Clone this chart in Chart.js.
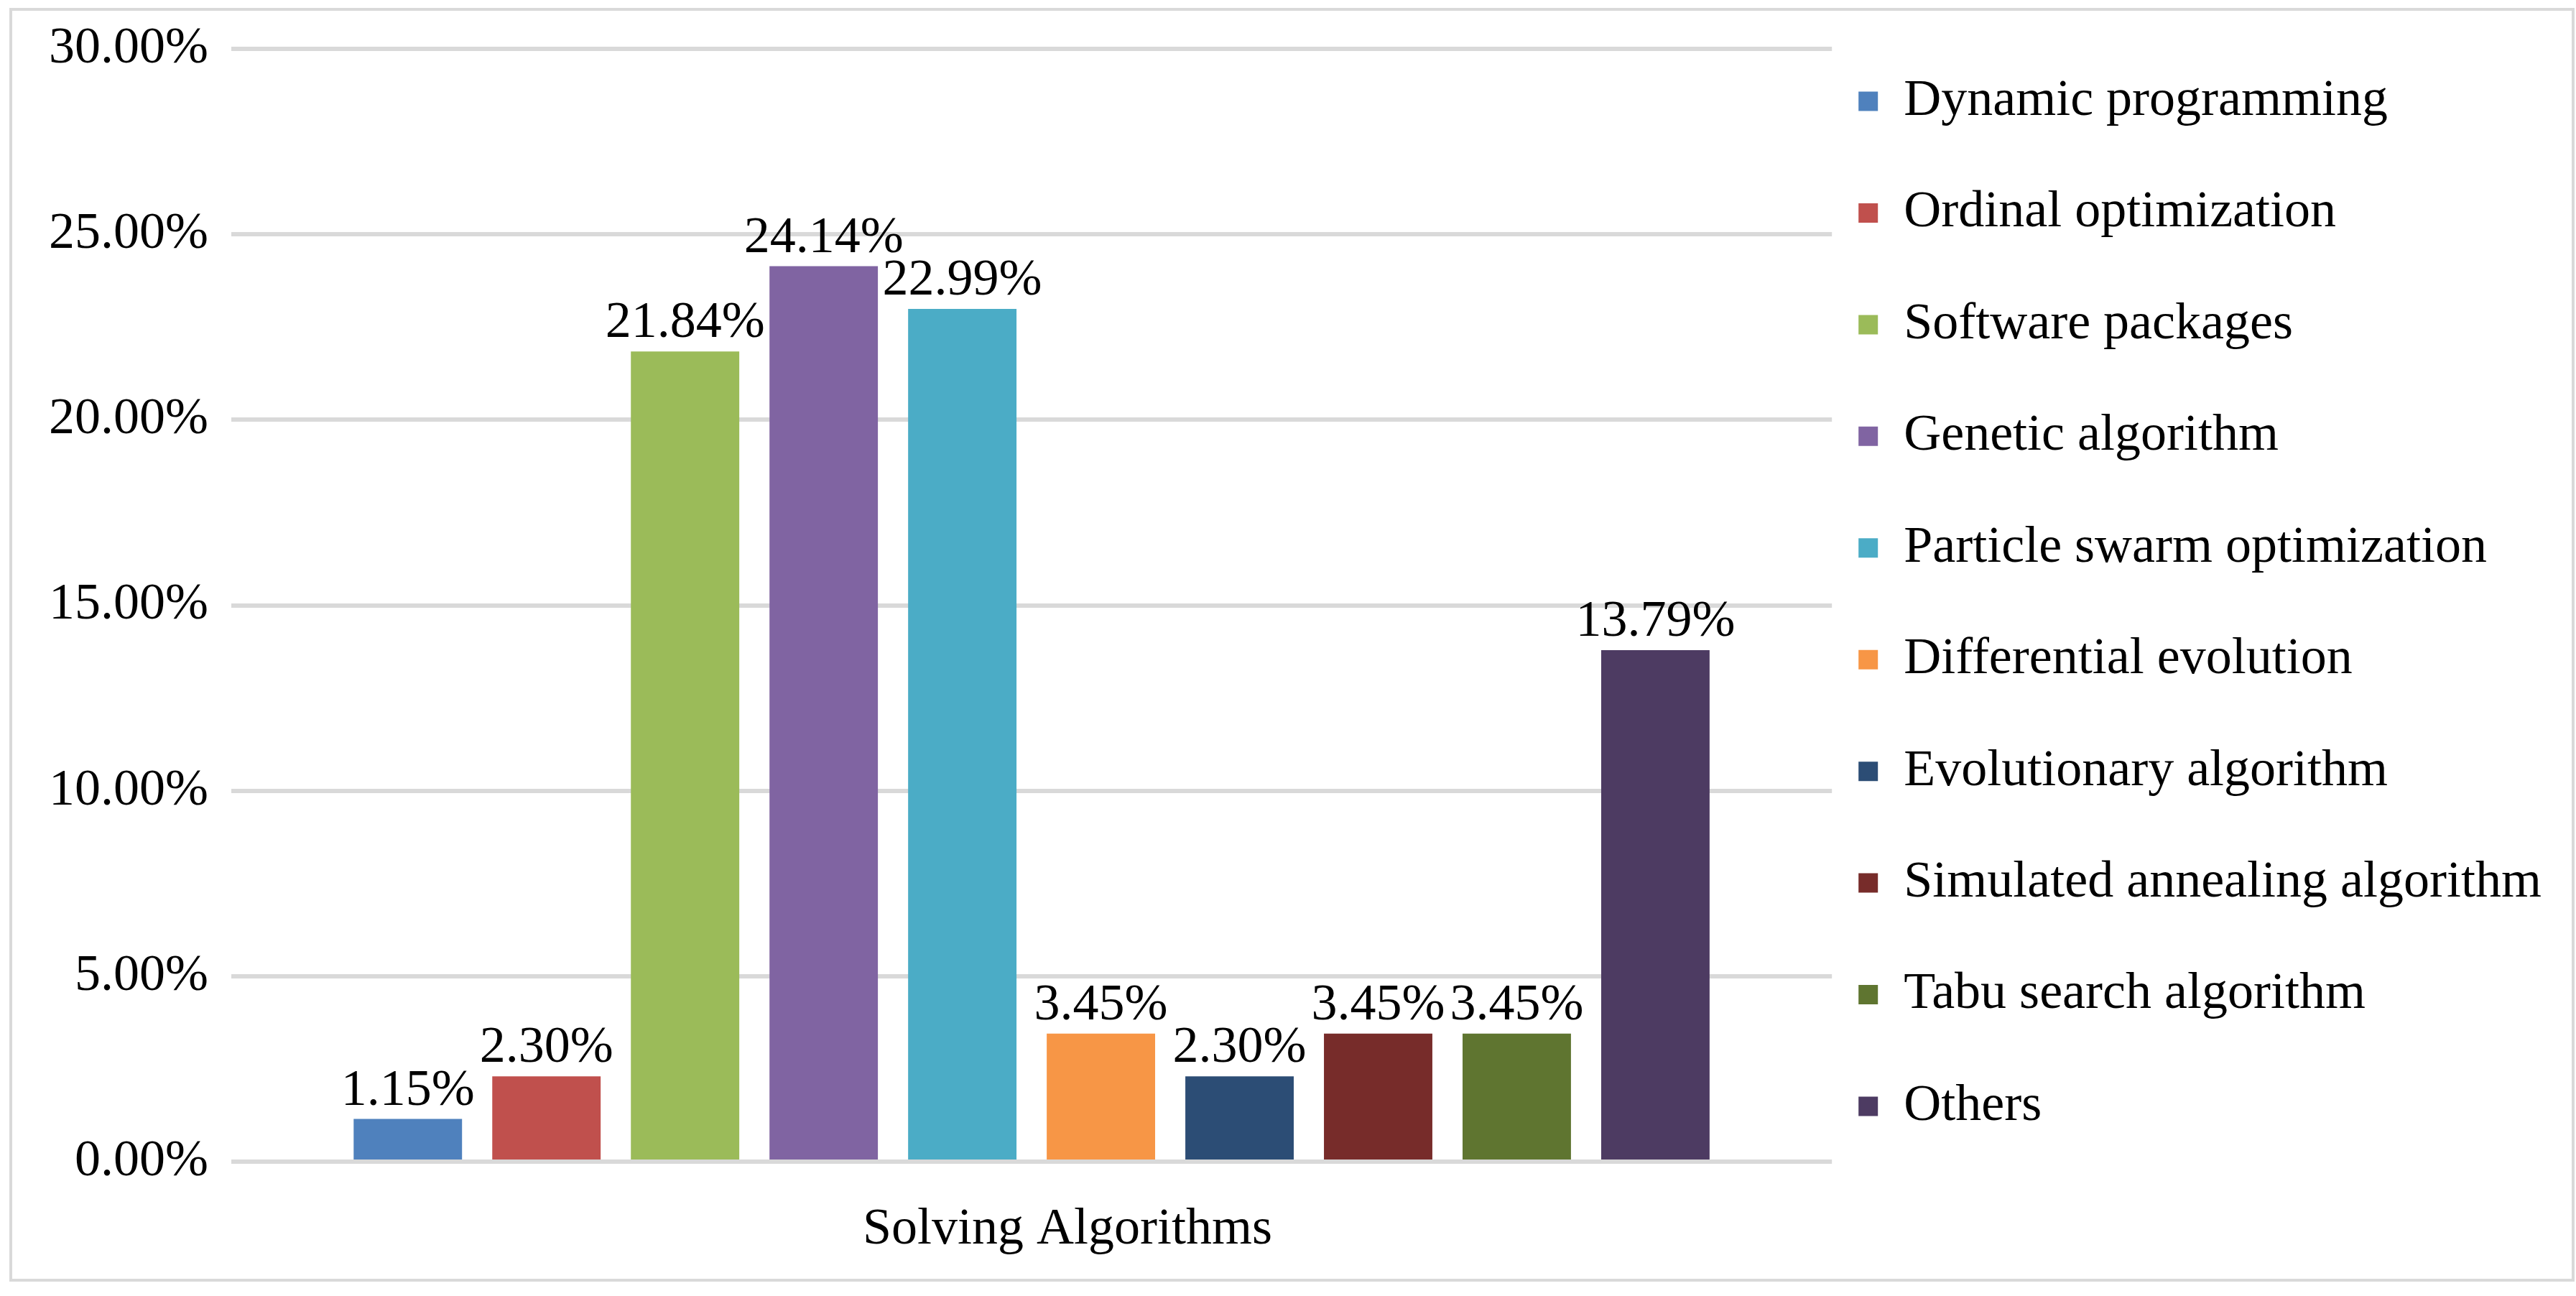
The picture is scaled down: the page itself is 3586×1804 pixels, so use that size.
<!DOCTYPE html>
<html>
<head>
<meta charset="utf-8">
<script src="https://cdn.jsdelivr.net/npm/chart.js@4.4.1/dist/chart.umd.min.js"></script>
<style>
  html, body { margin: 0; padding: 0; background: #fff; }
  #wrap { position: relative; width: 3586px; height: 1804px; }
  #frame { position: absolute; left: 13px; top: 11px; width: 3571px; height: 1773px;
           border: 4px solid #d9d9d9; box-sizing: border-box; pointer-events: none; }
</style>
</head>
<body>
<div id="wrap">
  <canvas id="chart" width="3586" height="1804"></canvas>
  <div id="frame"></div>
</div>
<script>
// datos
const categorias = ["Solving Algorithms"];
const algoritmos = [
  "Dynamic programming",
  "Ordinal optimization",
  "Software packages",
  "Genetic algorithm",
  "Particle swarm optimization",
  "Differential evolution",
  "Evolutionary algorithm",
  "Simulated annealing algorithm",
  "Tabu search algorithm",
  "Others"
];
const porcentajes = [1.15, 2.30, 21.84, 24.14, 22.99, 3.45, 2.30, 3.45, 3.45, 13.79];
const colores = ["#4F81BD", "#C0504D", "#9BBB59", "#8064A2", "#4BACC6",
                 "#F79646", "#2C4D75", "#772C2A", "#5F7530", "#4D3B62"];
const yMin = 0, yMax = 30, yPaso = 5;

const FUENTE = "'Liberation Serif', 'Times New Roman', serif";

// etiquetas de valor encima de cada barra
const etiquetas = {
  id: "etiquetas",
  afterDatasetsDraw(chart) {
    const ctx = chart.ctx;
    ctx.save();
    ctx.font = `72px ${FUENTE}`;
    ctx.fillStyle = "#000";
    ctx.textAlign = "center";
    ctx.textBaseline = "alphabetic";
    chart.data.datasets.forEach((ds, i) => {
      chart.getDatasetMeta(i).data.forEach((bar, j) => {
        ctx.fillText(ds.data[j].toFixed(2) + "%", bar.x, bar.y - 20);
      });
    });
    ctx.restore();
  }
};

const datasets = algoritmos.map((nombre, i) => ({
  label: nombre,
  data: [porcentajes[i]],
  backgroundColor: colores[i],
  borderWidth: 0
}));

new Chart(document.getElementById("chart").getContext("2d"), {
  type: "bar",
  data: { labels: categorias, datasets },
  options: {
    responsive: false,
    animation: false,
    devicePixelRatio: 1,
    categoryPercentage: 0.866,
    barPercentage: 0.782,
    layout: { padding: { top: 68, left: 36, right: 38, bottom: 41 } },
    plugins: {
      legend: {
        position: "right",
        align: "start",
        maxWidth: 1400,
        labels: {
          boxWidth: 27,
          boxHeight: 27,
          padding: 37,
          color: "#000",
          // texto en arreglo: la altura de cada fila sale del lineHeight
          font: { family: FUENTE, size: 72, lineHeight: 1.645 },
          generateLabels: (chart) =>
            Chart.defaults.plugins.legend.labels.generateLabels(chart)
              .map(it => ({ ...it, text: [it.text] }))
        }
      },
      tooltip: { enabled: false }
    },
    scales: {
      x: {
        grid: { display: false },
        border: { display: false },
        ticks: { color: "#000", padding: 44, labelOffset: 50, font: { family: FUENTE, size: 72 } },
        afterFit: (s) => { s.height = 146; }
      },
      y: {
        min: yMin,
        max: yMax,
        border: { display: false },
        grid: { color: "#d9d9d9", lineWidth: 6, drawTicks: false },
        ticks: {
          stepSize: yPaso,
          padding: 32,
          color: "#000",
          font: { family: FUENTE, size: 72, lineHeight: 1.0 },
          callback: (v) => Number(v).toFixed(2) + "%"
        }
      }
    }
  },
  plugins: [etiquetas]
});
</script>
</body>
</html>
